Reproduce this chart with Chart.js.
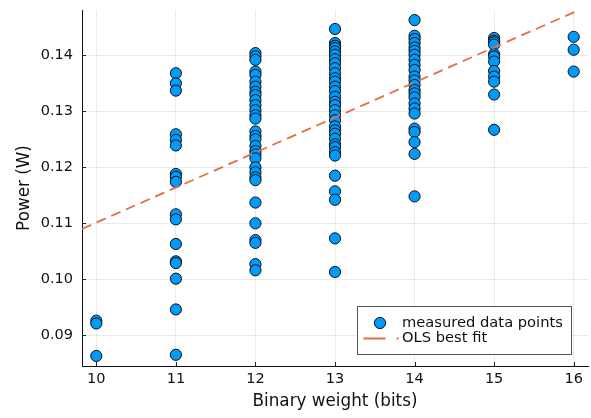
<!DOCTYPE html>
<html>
<head>
<meta charset="utf-8">
<script src="https://cdn.jsdelivr.net/npm/chart.js@4/dist/chart.umd.min.js"></script>
<style>
  html, body { margin: 0; padding: 0; background: #ffffff; }
  #wrap { width: 591px; height: 418px; }
</style>
</head>
<body>
<div id="wrap"><canvas id="c" width="591" height="418"></canvas></div>
<script>
// Measured power per binary weight width
const bitWidths = [10, 11, 12, 13, 14, 15, 16];

const power10 = [0.0926, 0.0921, 0.0863];
const power11 = [0.1368, 0.1350, 0.1337, 0.1259, 0.1249, 0.1239, 0.1188, 0.1183, 0.1174,
                 0.1116, 0.1107, 0.1063, 0.1032, 0.1029, 0.1001, 0.0946, 0.0865];
const power12 = [0.1404, 0.1398, 0.1392, 0.1371, 0.1365, 0.1353, 0.1344, 0.1335, 0.1329,
                 0.1320, 0.1311, 0.1302, 0.1293, 0.1287,
                 0.1264, 0.1256, 0.1250, 0.1238, 0.1229, 0.1223, 0.1216,
                 0.1200, 0.1191, 0.1182, 0.1177,
                 0.1137, 0.1100, 0.1070, 0.1065, 0.1027, 0.1016];
const power13 = [0.1447, 0.1422, 0.1417, 0.1413, 0.1407, 0.1401, 0.1393, 0.1386, 0.1377,
                 0.1368, 0.1359, 0.1353, 0.1344, 0.1336, 0.1326, 0.1317, 0.1311, 0.1302,
                 0.1293, 0.1284, 0.1273, 0.1266, 0.1260, 0.1251, 0.1241, 0.1236, 0.1227,
                 0.1221, 0.1185, 0.1157, 0.1142, 0.1073, 0.1013];
const power14 = [0.1463, 0.1435, 0.1429, 0.1422, 0.1414, 0.1408, 0.1401, 0.1392, 0.1383,
                 0.1374, 0.1362, 0.1355, 0.1347, 0.1338, 0.1332, 0.1325, 0.1314, 0.1305,
                 0.1296, 0.1269, 0.1263, 0.1245, 0.1224, 0.1148];
const power15 = [0.1431, 0.1426, 0.1423, 0.1419, 0.1402, 0.1398, 0.1389, 0.1372, 0.1362,
                 0.1353, 0.1330, 0.1267];
const power16 = [0.1433, 0.1410, 0.1371];

const powerByWidth = [power10, power11, power12, power13, power14, power15, power16];

// Ordinary least squares line, evaluated at the two ends of the x range
const fitX = [9.82, 16.18];
const fitY = [0.1090, 0.1488];

// Axis ticks
const xTicks = [10, 11, 12, 13, 14, 15, 16];
const yTicks = [0.09, 0.10, 0.11, 0.12, 0.13, 0.14];

const measured = [];
bitWidths.forEach((b, i) => powerByWidth[i].forEach(p => measured.push({ x: b, y: p })));
const fitLine = fitX.map((x, i) => ({ x: x, y: fitY[i] }));

const FONT = "'DejaVu Sans', sans-serif";
const BLUE = '#009AFA';
const ORANGE = '#E26F46';

// Short tick marks drawn inward from the axis lines
const innerTicks = {
  id: 'innerTicks',
  afterDatasetsDraw(chart) {
    const { ctx, chartArea, scales } = chart;
    ctx.save();
    ctx.strokeStyle = '#222';
    ctx.lineWidth = 1;
    ctx.beginPath();
    scales.x.ticks.forEach(t => {
      const px = Math.round(scales.x.getPixelForValue(t.value)) + 0.5;
      ctx.moveTo(px, chartArea.bottom);
      ctx.lineTo(px, chartArea.bottom - 4);
    });
    scales.y.ticks.forEach(t => {
      const py = Math.round(scales.y.getPixelForValue(t.value)) + 0.5;
      ctx.moveTo(chartArea.left, py);
      ctx.lineTo(chartArea.left + 4, py);
    });
    ctx.stroke();
    ctx.restore();
  }
};

// Framed legend in the lower-right corner of the plot area
const boxLegend = {
  id: 'boxLegend',
  afterDraw(chart) {
    const { ctx, chartArea } = chart;
    const ds = chart.data.datasets;
    const x1 = chartArea.right - 16.5, y2 = chartArea.bottom - 11.5;
    const x0 = x1 - 214, y0 = y2 - 48;
    ctx.save();
    ctx.fillStyle = '#ffffff';
    ctx.fillRect(x0, y0, x1 - x0, y2 - y0);
    ctx.strokeStyle = '#555';
    ctx.lineWidth = 1;
    ctx.strokeRect(x0, y0, x1 - x0, y2 - y0);

    // row 1: marker
    const r1 = y0 + 16.5;
    ctx.beginPath();
    ctx.arc(x0 + 22.5, r1, 5.6, 0, Math.PI * 2);
    ctx.fillStyle = ds[1].backgroundColor;
    ctx.fill();
    ctx.strokeStyle = ds[1].borderColor;
    ctx.lineWidth = 1;
    ctx.stroke();

    // row 2: dashed line
    const r2 = y0 + 32;
    ctx.beginPath();
    ctx.setLineDash([22, 11]);
    ctx.moveTo(x0 + 6, r2);
    ctx.lineTo(x0 + 41, r2);
    ctx.strokeStyle = ds[0].borderColor;
    ctx.lineWidth = 1.8;
    ctx.stroke();
    ctx.setLineDash([]);

    ctx.fillStyle = '#111';
    ctx.font = '14.7px ' + FONT;
    ctx.textBaseline = 'middle';
    ctx.textAlign = 'left';
    ctx.fillText(ds[1].label, x0 + 44.5, r1);
    ctx.fillText(ds[0].label, x0 + 44.5, r2);
    ctx.restore();
  }
};

new Chart(document.getElementById('c'), {
  type: 'scatter',
  data: {
    datasets: [
      {
        type: 'line',
        label: 'OLS best fit',
        data: fitLine,
        borderColor: ORANGE,
        backgroundColor: ORANGE,
        borderWidth: 1.8,
        borderDash: [10, 6],
        pointRadius: 0,
        fill: false,
        tension: 0,
        order: 1
      },
      {
        label: 'measured data points',
        data: measured,
        backgroundColor: BLUE,
        borderColor: '#111',
        borderWidth: 1,
        pointRadius: 5.6,
        pointHoverRadius: 5.6,
        order: 2
      }
    ]
  },
  options: {
    responsive: false,
    animation: false,
    devicePixelRatio: 1,
    layout: { autoPadding: false, padding: { left: 0, top: 10, right: 3, bottom: 0 } },
    plugins: {
      legend: { display: false },
      tooltip: { enabled: false }
    },
    scales: {
      x: {
        type: 'linear',
        min: 9.82,
        max: 16.18,
        afterBuildTicks: s => { s.ticks = xTicks.map(v => ({ value: v })); },
        afterFit: s => { s.height = 52; s.paddingLeft = 0; s.paddingRight = 0; },
        ticks: {
          color: '#111',
          font: { family: FONT, size: 14.5 },
          padding: 5,
          maxRotation: 0,
          callback: v => String(v)
        },
        grid: { color: 'rgba(0,0,0,0.08)', lineWidth: 1, drawTicks: false },
        border: { display: true, color: '#111', width: 1 },
        title: {
          display: true,
          text: 'Binary weight (bits)',
          color: '#111',
          font: { family: FONT, size: 16.8 },
          padding: { top: 0, bottom: 6 }
        }
      },
      y: {
        type: 'linear',
        min: 0.0845,
        max: 0.1481,
        afterBuildTicks: s => { s.ticks = yTicks.map(v => ({ value: v })); },
        afterFit: s => { s.width = 82; s.paddingTop = 0; s.paddingBottom = 0; },
        ticks: {
          color: '#111',
          font: { family: FONT, size: 14.5 },
          padding: 9,
          callback: v => v.toFixed(2)
        },
        grid: { color: 'rgba(0,0,0,0.08)', lineWidth: 1, drawTicks: false },
        border: { display: true, color: '#111', width: 1 },
        title: {
          display: true,
          text: 'Power (W)',
          color: '#111',
          font: { family: FONT, size: 16.8 },
          padding: { top: 15, bottom: 0 }
        }
      }
    }
  },
  plugins: [innerTicks, boxLegend]
});
</script>
</body>
</html>
